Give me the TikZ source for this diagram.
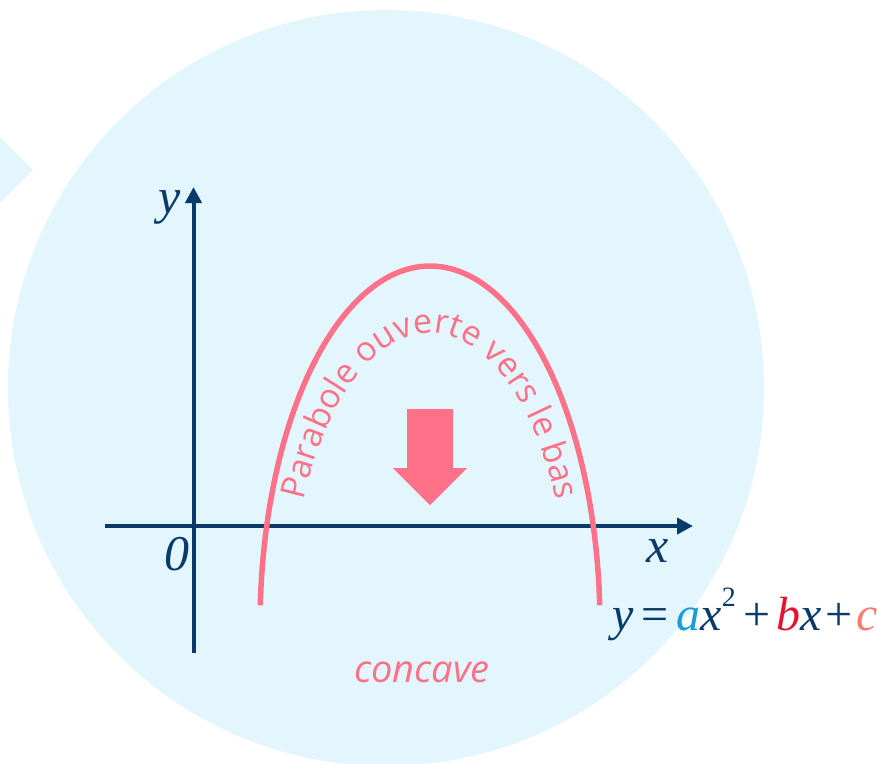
\documentclass[tikz,border=0pt]{standalone}
\usepackage{fontspec}
\setmainfont{Liberation Serif}
\newfontfamily\sansfont{Open Sans}
\usetikzlibrary{arrows.meta,decorations.text}
\definecolor{bgblue}{HTML}{E3F6FD}
\definecolor{navy}{HTML}{0A3A69}
\definecolor{rose}{HTML}{FF7189}
\definecolor{coefa}{HTML}{1A9CD8}
\definecolor{coefb}{HTML}{E3152E}
\definecolor{coefc}{HTML}{FF7B6B}
\begin{document}
\begin{tikzpicture}[x=1pt, y=-1pt, >={Triangle[length=16pt,width=16pt]},
    axis/.style={draw=navy, line width=4pt},
    lbl/.style={text=navy, font=\fontsize{50}{56}\selectfont\itshape, anchor=base, inner sep=0pt}]
    % 1. 背景圆与左侧三角
    \useasboundingbox (0,0) rectangle (877,763);
    \clip (0,0) rectangle (877,763);
    \fill[bgblue] (386,388) circle[radius=378];
    \fill[bgblue] (33,170) -- (-40,97) -- (-40,243) -- cycle;
    
    % 2. 坐标轴
    \draw[axis, ->] (105,526) -- (693,526);
    \draw[axis, ->] (193.5,653) -- (193.5,187);
    \node[lbl] (ylbl) at (170,213) {y};
    \node[lbl] (olbl) at (176.5,570) {0};
    \node[lbl] (xlbl) at (658,562) {x};
    
    % 3. 抛物线与弧形文字
    \draw[rose, line width=5.5pt, domain=183.3:356.7, samples=120] plot ({430+170*cos(\x)}, {626+360*sin(\x)});
    \path[decorate, decoration={text along path, text color=rose, text align=center,
        text={|\sansfont\fontsize{34}{38}\selectfont|Parabole ouverte vers le bas}}]
        plot[domain=200:340, samples=100] ({430+140*cos(\x)}, {626+293*sin(\x)});
    
    % 4. 向下箭头
    \fill[rose] (407,409) -- (453,409) -- (453,468) -- (467,468) -- (430,505) -- (393,468) -- (407,468) -- cycle;
    
    % 5. 文字标签
    \node[text=rose, font=\sansfont\itshape\fontsize{38}{44}\selectfont, anchor=base, inner sep=0pt] (concave) at (422,682) {concave};
    \node[text=navy, font=\fontsize{48}{54}\selectfont, anchor=base west, inner sep=0pt] (eq) at (612,630)
        {{\itshape y}\hspace{8pt}=\hspace{8pt}{\itshape\color{coefa}a}{\itshape x}\raisebox{24pt}{\fontsize{28}{30}\selectfont 2}\hspace{8pt}+\hspace{6pt}{\itshape\color{coefb}b}{\itshape x}\hspace{3pt}+\hspace{4pt}{\itshape\color{coefc}c}};
\end{tikzpicture}
\end{document}
